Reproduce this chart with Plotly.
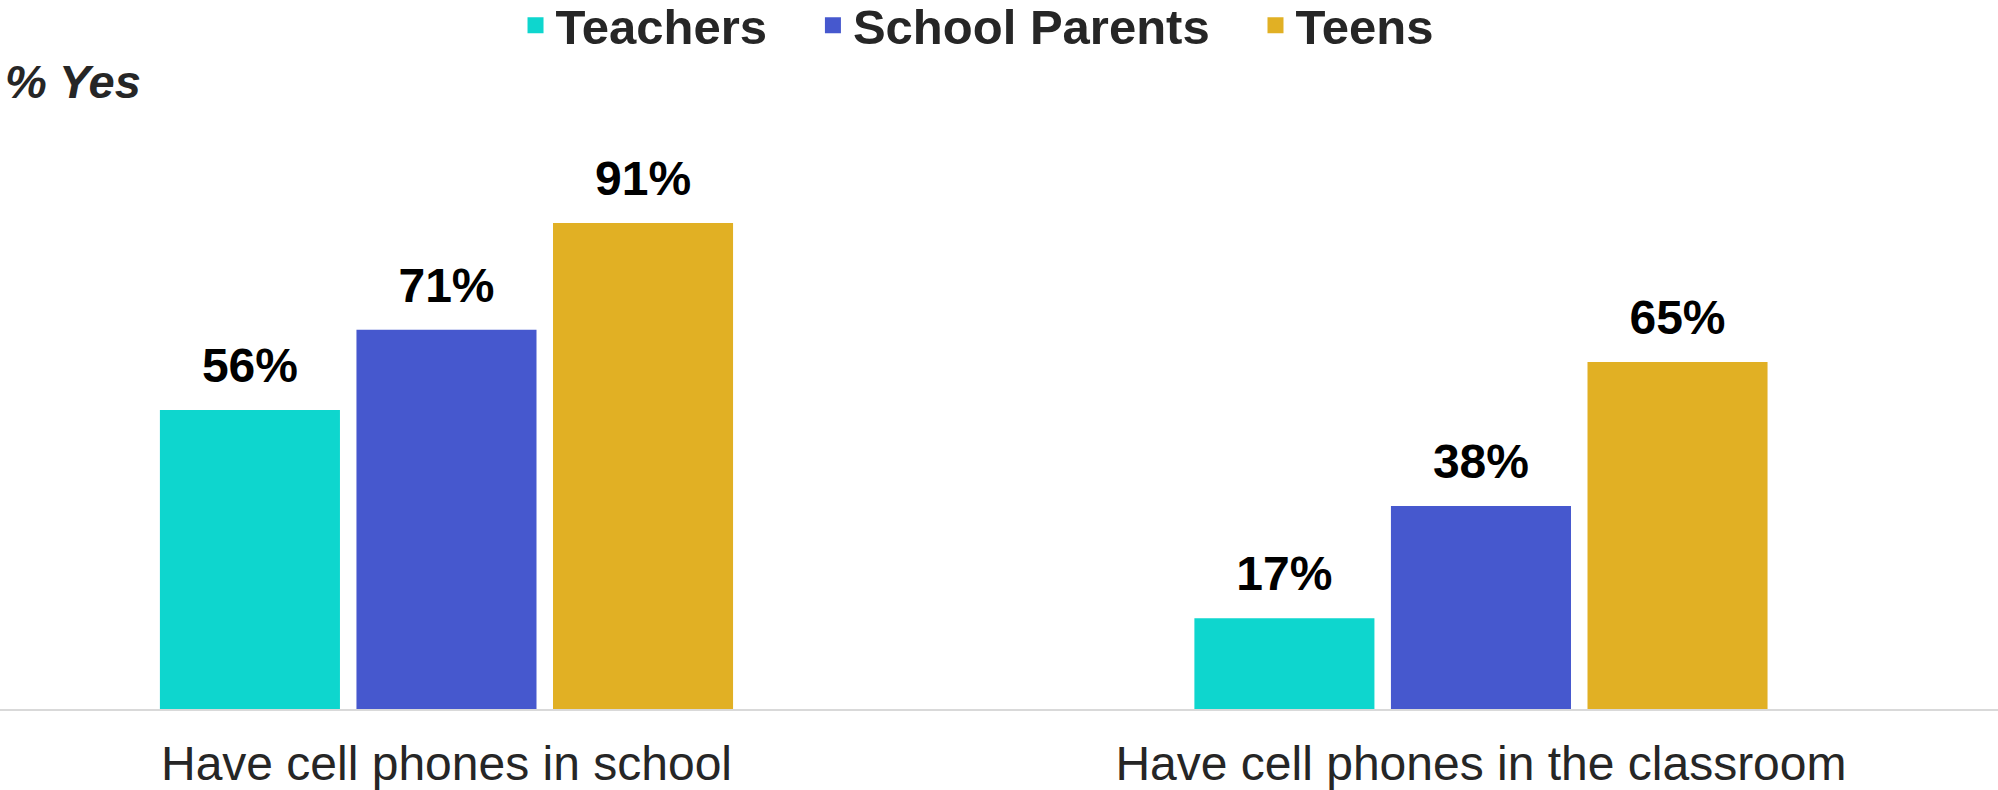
import plotly.graph_objects as go

categories = ["Have cell phones in school", "Have cell phones in the classroom"]
series_names = ["Teachers", "School Parents", "Teens"]
teachers = [56, 17]
school_parents = [71, 38]
teens = [91, 65]
colors = ["#0ED6CE", "#4658CE", "#E1B024"]

values = [teachers, school_parents, teens]
legend_pad = ["\u00a0\u00a0\u00a0", "\u00a0\u00a0\u00a0", ""]

fig = go.Figure()
for i, (name, vals, col) in enumerate(zip(series_names, values, colors)):
    fig.add_trace(go.Bar(
        x=categories, y=vals, name=name, showlegend=False,
        offsetgroup=f"g{i}",
        marker=dict(color=col, line=dict(width=0)),
        hovertemplate="%{x}: %{y}%<extra>" + name + "</extra>",
    ))
# value labels, grouped the same way as the bars but sitting a little higher
for i, (name, vals) in enumerate(zip(series_names, values)):
    fig.add_trace(go.Scatter(
        x=categories, y=vals, mode="markers+text", showlegend=False,
        offsetgroup=f"g{i}",
        text=[f"{v}%" for v in vals], textposition="top center",
        marker=dict(size=24, color="rgba(0,0,0,0)"),
        textfont=dict(family="Liberation Sans", size=48, color="#000000", weight="bold"),
        cliponaxis=False, hoverinfo="skip",
    ))
# legend-only entries
for i, (name, col, pad) in enumerate(zip(series_names, colors, legend_pad)):
    fig.add_trace(go.Scatter(
        x=[None], y=[None], mode="markers", name=name + pad,
        offsetgroup=f"g{i}",
        marker=dict(symbol="square", size=16, color=col),
    ))

fig.update_layout(
    width=1998, height=790,
    barmode="group", bargap=0.43, bargroupgap=0.084,
    scattermode="group", scattergap=0.43,
    plot_bgcolor="white", paper_bgcolor="white",
    margin=dict(l=0, r=0, t=175, b=81, autoexpand=False),
    font=dict(family="Liberation Sans", color="#262626"),
    showlegend=True,
    legend=dict(
        orientation="h", x=0.489, xanchor="center",
        yref="container", y=0.968, yanchor="middle",
        font=dict(size=49, color="#262626", family="Liberation Sans", weight="bold"),
        itemsizing="trace", traceorder="normal", itemwidth=30,
    ),
)

fig.update_xaxes(
    type="category", range=[-0.4316, 1.4998], automargin=False,
    showline=True, linecolor="#D9D9D9", linewidth=2,
    showgrid=False, ticks="", ticklabelstandoff=11,
    tickfont=dict(size=48, color="#262626", family="Liberation Sans"),
)
fig.update_yaxes(range=[0, 100], visible=False, showgrid=False, zeroline=False,
                 automargin=False)

fig.add_annotation(
    text="<b><i>% Yes</i></b>", xref="paper", yref="paper",
    x=0.0, xanchor="left", xshift=3, y=1.175, yanchor="middle",
    showarrow=False, font=dict(size=47, color="#262626", family="Liberation Sans"),
)

fig.write_html("out.html", config={"displayModeBar": False},
               post_script="document.body.style.margin='0';")
